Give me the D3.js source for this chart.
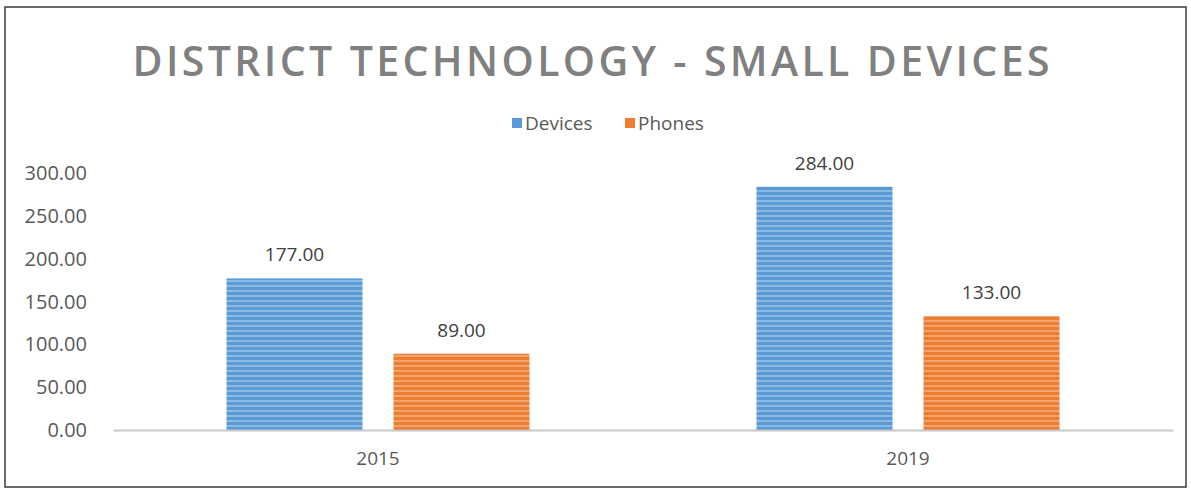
<!DOCTYPE html>
<html>
<head>
<meta charset="utf-8">
<script src="https://cdn.jsdelivr.net/npm/d3@7"></script>
<style>
  body { margin: 0; background: #fff; }
  svg { display: block; font-family: "Open Sans", "DejaVu Sans", sans-serif; }
</style>
</head>
<body>
<svg width="1191" height="489"></svg>
<script>
// chart data
var categories = ["2015", "2019"];
var seriesNames = ["Devices", "Phones"];
var devices = [177, 284];
var phones = [89, 133];
var yTicks = [0, 50, 100, 150, 200, 250, 300];
var colors = ["#5b9bd5", "#ed7d31"];

var svg = d3.select("svg"),
  margin = {top: 173, right: 18, bottom: 59, left: 113},
  width = +svg.attr("width") - margin.left - margin.right,
  height = +svg.attr("height") - margin.top - margin.bottom;

// striped fills like the original
var defs = svg.append("defs");
colors.forEach(function(c, i) {
  var p = defs.append("pattern")
    .attr("id", "stripe" + i)
    .attr("patternUnits", "userSpaceOnUse")
    .attr("width", 8).attr("height", 5);
  p.append("rect").attr("width", 8).attr("height", 5).attr("fill", c);
  p.append("rect").attr("y", 2).attr("width", 8).attr("height", 2)
    .attr("fill", d3.interpolateRgb(c, "#fff")(0.3));
});

// frame
svg.append("rect")
  .attr("x", 5).attr("y", 7).attr("width", 1181).attr("height", 480)
  .attr("fill", "none").attr("stroke", "#3a3a3a").attr("stroke-width", 1.5);

svg.append("text")
  .attr("x", 591).attr("y", 76)
  .attr("text-anchor", "middle")
  .attr("fill", "#808080")
  .attr("font-size", 41).attr("font-weight", 600)
  .attr("textLength", 917).attr("lengthAdjust", "spacing")
  .text("DISTRICT TECHNOLOGY - SMALL DEVICES");

// legend
var legend = svg.append("g").attr("font-size", 19);
var legendX = [512, 625];
seriesNames.forEach(function(s, i) {
  legend.append("rect").attr("x", legendX[i]).attr("y", 118)
    .attr("width", 10).attr("height", 10).attr("fill", colors[i]);
  legend.append("text").attr("x", legendX[i] + 13).attr("y", 130)
    .attr("fill", "#595959").text(s);
});

var g = svg.append("g").attr("transform", "translate(" + margin.left + "," + margin.top + ")");

var x0 = d3.scaleBand().domain(categories).range([0, width]);
var x1 = d3.scaleBand().domain(seriesNames).range([0, 303]).paddingInner(31 / 167);
var y = d3.scaleLinear().domain([0, 300]).range([height, 0]);

var data = categories.map(function(c, i) {
  return {cat: c, values: [devices[i], phones[i]]};
});

// y axis labels (no line)
g.append("g").selectAll("text")
  .data(yTicks).enter().append("text")
  .attr("x", -26).attr("y", function(d) { return y(d); })
  .attr("dy", "0.35em")
  .attr("text-anchor", "end")
  .attr("font-size", 20).attr("fill", "#595959")
  .text(function(d) { return d3.format(".2f")(d); });

var groups = g.selectAll(".grp")
  .data(data).enter().append("g")
  .attr("transform", function(d) { return "translate(" + (x0(d.cat) + x0.bandwidth() / 2 - 151.5) + ",0)"; });

groups.selectAll("rect")
  .data(function(d) { return d.values.map(function(v, i) { return {key: seriesNames[i], v: v, i: i}; }); })
  .enter().append("rect")
  .attr("x", function(d) { return x1(d.key); })
  .attr("y", function(d) { return y(d.v); })
  .attr("width", x1.bandwidth())
  .attr("height", function(d) { return height - y(d.v); })
  .attr("fill", function(d) { return "url(#stripe" + d.i + ")"; });

groups.selectAll(".lbl")
  .data(function(d) { return d.values.map(function(v, i) { return {key: seriesNames[i], v: v}; }); })
  .enter().append("text")
  .attr("x", function(d) { return x1(d.key) + x1.bandwidth() / 2; })
  .attr("y", function(d) { return y(d.v) - 17; })
  .attr("text-anchor", "middle")
  .attr("font-size", 19).attr("fill", "#404040")
  .text(function(d) { return d3.format(".2f")(d.v); });

// x axis
var xAxis = g.append("g")
  .attr("transform", "translate(0," + height + ")")
  .call(d3.axisBottom(x0).tickSize(0).tickPadding(22));
xAxis.select(".domain").attr("stroke", "#c8c8c8").attr("stroke-width", 2);
xAxis.selectAll("text").attr("font-size", 19).attr("fill", "#595959")
  .attr("font-family", "\"Open Sans\", sans-serif");
</script>
</body>
</html>
